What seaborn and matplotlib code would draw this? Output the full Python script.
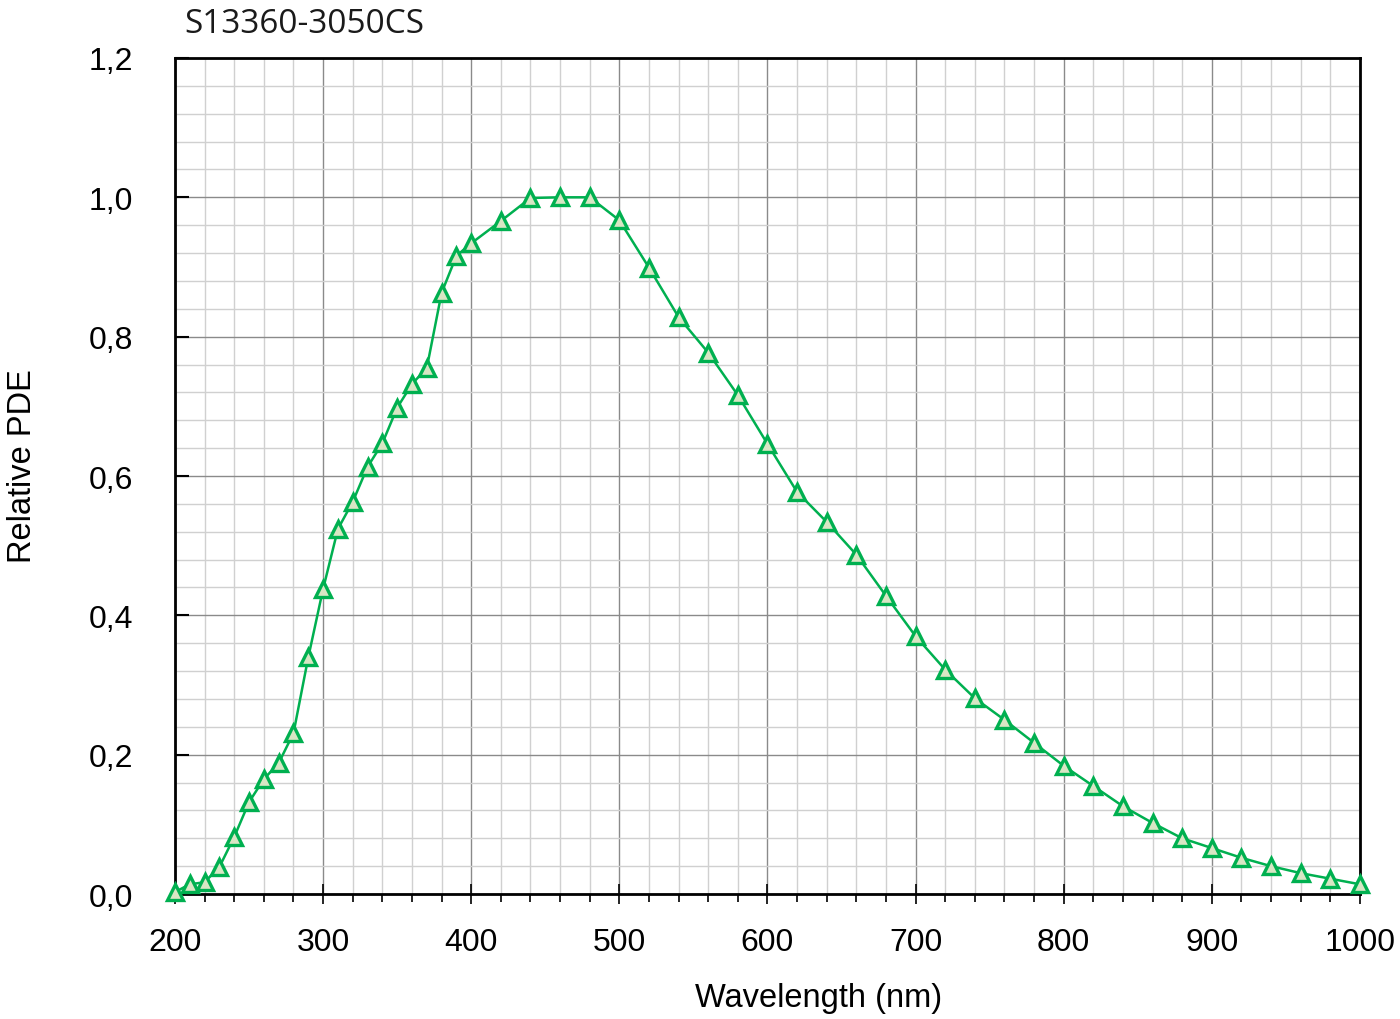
import matplotlib
matplotlib.use("Agg")
import matplotlib.pyplot as plt
from matplotlib.ticker import MultipleLocator, FuncFormatter
import seaborn as sns
import pandas as pd

wavelength = [200, 210, 220, 230, 240, 250, 260, 270, 280, 290, 300, 310, 320, 330, 340,
              350, 360, 370, 380, 390, 400, 420, 440, 460, 480, 500, 520, 540, 560, 580,
              600, 620, 640, 660, 680, 700, 720, 740, 760, 780, 800, 820, 840, 860, 880,
              900, 920, 940, 960, 980, 1000]
relative_pde = [0.003, 0.014, 0.017, 0.039, 0.082, 0.132, 0.165, 0.188, 0.231, 0.340,
                0.438, 0.524, 0.563, 0.613, 0.647, 0.698, 0.732, 0.755, 0.863, 0.916,
                0.934, 0.966, 0.999, 1.000, 1.000, 0.967, 0.899, 0.828, 0.777, 0.716,
                0.646, 0.577, 0.534, 0.487, 0.428, 0.370, 0.322, 0.281, 0.250, 0.217,
                0.184, 0.155, 0.126, 0.102, 0.080, 0.066, 0.052, 0.040, 0.030, 0.022, 0.014]
title_text = "S13360-3050CS"
x_label = "Wavelength (nm)"
y_label = "Relative PDE"

df = pd.DataFrame({"wl": wavelength, "pde": relative_pde})

sns.set_theme(style="white")
plt.rcParams["font.family"] = ["Liberation Sans", "DejaVu Sans"]
plt.rcParams["text.color"] = "black"
plt.rcParams["axes.labelcolor"] = "black"
plt.rcParams["xtick.color"] = "black"
plt.rcParams["ytick.color"] = "black"

fig = plt.figure(figsize=(14, 10.2), dpi=100)
ax = fig.add_axes([0.125, 0.1225, 0.8464, 0.8197])

sns.lineplot(data=df, x="wl", y="pde", ax=ax, color="#00b050", linewidth=1.8,
             marker="^", markersize=11.5, markerfacecolor="#d8e6c4",
             markeredgecolor="#00b050", markeredgewidth=2.4, clip_on=False, zorder=5)

ax.set_xlim(200, 1000)
ax.set_ylim(0, 1.2)
ax.xaxis.set_major_locator(MultipleLocator(100))
ax.xaxis.set_minor_locator(MultipleLocator(20))
ax.yaxis.set_major_locator(MultipleLocator(0.2))
ax.yaxis.set_minor_locator(MultipleLocator(0.04))
ax.yaxis.set_major_formatter(FuncFormatter(lambda v, p: f"{v:.1f}".replace(".", ",")))

ax.grid(which="minor", color="#d0d0d0", linewidth=1.0)
ax.grid(which="major", color="#8a8a8a", linewidth=1.0)
ax.set_axisbelow(True)

for s in ax.spines.values():
    s.set_color("black")
    s.set_linewidth(2)

ax.tick_params(axis="x", which="major", direction="inout", length=14, width=1.2,
               color="black", labelsize=23, pad=17)
ax.tick_params(axis="x", which="minor", direction="out", length=6, width=1.2,
               color="black", bottom=True)
ax.tick_params(axis="y", which="major", direction="in", length=10, width=1.5,
               color="black", labelsize=23, pad=30, left=True)
ax.tick_params(axis="y", which="minor", left=False)
ax.tick_params(axis="x", bottom=True)

ax.set_xlabel(x_label, fontsize=23.5)
ax.set_ylabel(y_label, fontsize=23.5)
ax.xaxis.set_label_coords(0.543, -0.105)
ax.yaxis.set_label_coords(-0.116, 0.513)

fig.text(0.132, 0.976, title_text, fontsize=24, family=["Open Sans", "DejaVu Sans"],
         ha="left", va="center", color="#1a1a1a")

fig.savefig("out.png", dpi=100, facecolor="white")
